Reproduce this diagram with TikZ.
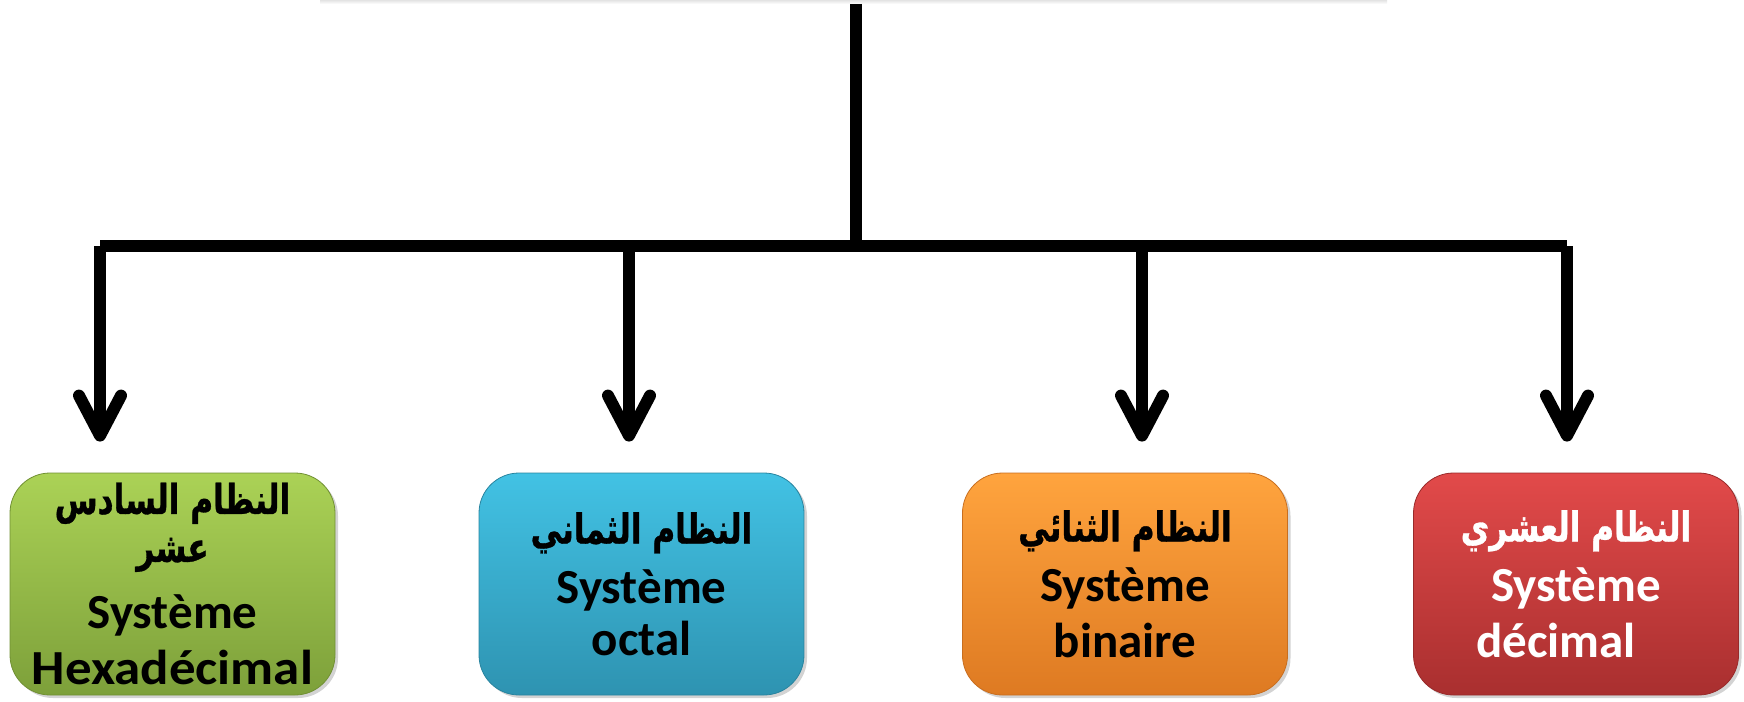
\documentclass[tikz,border=0pt]{standalone}
\usepackage{fontspec}
\setmainfont{Carlito}
\newfontfamily\arabicfont[Script=Arabic,FakeStretch=0.76,FakeBold=0.8]{DejaVu Sans}
\TeXXeTstate=1
\usetikzlibrary{arrows.meta,shadows}

\definecolor{greenTop}{HTML}{ABD256}
\definecolor{greenBot}{HTML}{7DA03A}
\definecolor{blueTop}{HTML}{42C2E4}
\definecolor{blueBot}{HTML}{2E93B1}
\definecolor{orangeTop}{HTML}{FFA43E}
\definecolor{orangeBot}{HTML}{DE7A22}
\definecolor{redTop}{HTML}{E24A4A}
\definecolor{redBot}{HTML}{A92F2F}

\newcommand\artxt[1]{{\arabicfont\fontsize{20.5}{25}\selectfont\beginR #1\endR}}

\begin{document}
\begin{tikzpicture}[x=0.5pt,y=-0.5pt,
  wire/.style={line width=6pt},
  branch/.style={line width=6pt, shorten >=15.5pt,
    -{Straight Barb[length=20pt,width=21pt,round]}},
  sysbox/.style={rounded corners=20pt, minimum width=162.5pt,
    minimum height=111pt, inner sep=0pt, align=center,
    font=\bfseries\fontsize{24.5}{28}\selectfont,
    drop shadow={opacity=0.35,shadow xshift=1.5pt,shadow yshift=-1.5pt}}
]
\useasboundingbox (0,0) rectangle (1744,701);

% faint shadow edge along the top
\shade[top color=gray!22,bottom color=white] (320,0) rectangle (1387,4);

% number system boxes
\node[sysbox, top color=greenTop, bottom color=greenBot, draw=greenBot!90!black, line width=0.4pt]
  (b1) at (172.5,584) {\artxt{النظام السادس}\\[-4pt]\artxt{عشر}\\[5.5pt]Système\\\scalebox{1.08}[1]{Hexadécimal}};
\node[sysbox, top color=blueTop, bottom color=blueBot, draw=blueBot!90!black, line width=0.4pt]
  (b2) at (641.5,584) {\artxt{النظام الثماني}\\[2pt]Système\\[-2pt]octal};
\node[sysbox, top color=orangeTop, bottom color=orangeBot, draw=orangeBot!90!black, line width=0.4pt]
  (b3) at (1125,584) {\artxt{النظام الثنائي}\\[2pt]Système\\binaire};
\node[sysbox, top color=redTop, bottom color=redBot, draw=redBot!90!black, line width=0.4pt, text=white]
  (b4) at (1576,584) {\artxt{النظام العشري}\\[2pt]Système\\décimal\hspace*{20pt}};

% tree connectors
\coordinate (top) at (856,4);
\coordinate (hub) at (856,246);
\coordinate (c1) at (100,246);
\coordinate (c2) at (629,246);
\coordinate (c3) at (1142,246);
\coordinate (c4) at (1567,246);

\draw[wire] (top) -- (hub);
\draw[wire] (c1) -- (c4);
\draw[branch] (c1) -- (c1 |- b1.north);
\draw[branch] (c2) -- (c2 |- b2.north);
\draw[branch] (c3) -- (c3 |- b3.north);
\draw[branch] (c4) -- (c4 |- b4.north);
\end{tikzpicture}
\end{document}
